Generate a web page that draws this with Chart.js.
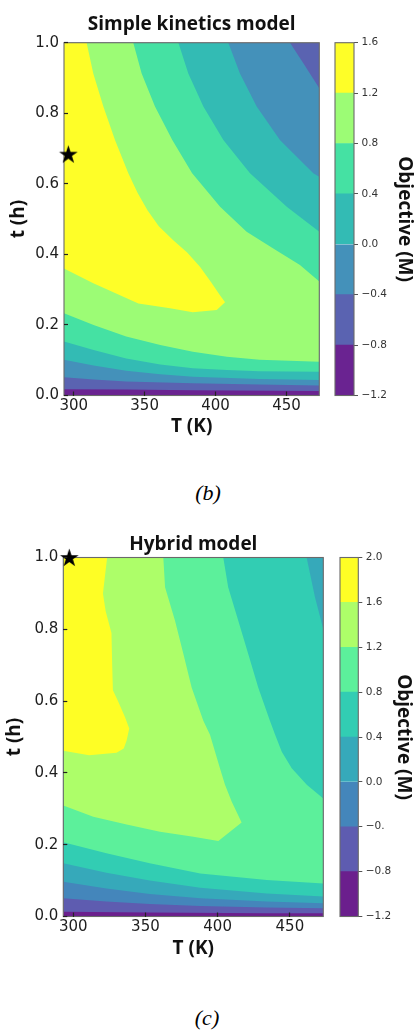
<!DOCTYPE html>
<html>
<head>
<meta charset="utf-8">
<script src="https://cdn.jsdelivr.net/npm/chart.js@4.4.1/dist/chart.umd.min.js"></script>
<style>
  html, body { margin: 0; padding: 0; background: #fff; }
  body { position: relative; width: 416px; height: 1030px; overflow: hidden; }
  canvas { position: absolute; }
  .cap { position: absolute; font-family: "Liberation Serif", "DejaVu Serif", serif; font-style: italic;
         font-size: 22px; color: #000; transform: translate(-50%, -50%); white-space: nowrap; }
</style>
</head>
<body>
<canvas id="main1" width="330" height="440" style="left:0;top:0"></canvas>
<canvas id="bar1" width="96" height="440" style="left:320px;top:0"></canvas>
<div class="cap" style="left:208px;top:493px">(b)</div>
<canvas id="main2" width="334" height="460" style="left:0;top:500px"></canvas>
<canvas id="bar2" width="91" height="460" style="left:325px;top:500px"></canvas>
<div class="cap" style="left:207px;top:1018px">(c)</div>
<script>
// ---------------- data ----------------
const T_MIN = 293.15, T_MAX = 473.15, t_MIN = 0, t_MAX = 1.0;
const xTicks = [300, 350, 400, 450];
const yTicks = [0, 0.2, 0.4, 0.6, 0.8, 1.0];
const yTickLabels = ['0.0', '0.2', '0.4', '0.6', '0.8', '1.0'];

// contour levels (colorbar boundaries)
const simpleLevels = [-1.2, -0.8, -0.4, 0.0, 0.4, 0.8, 1.2, 1.6];
const simpleLevelLabels = ['\u22121.2', '\u22120.8', '\u22120.4', '0.0', '0.4', '0.8', '1.2', '1.6'];
const hybridLevels = [-1.2, -0.8, -0.4, 0.0, 0.4, 0.8, 1.2, 1.6, 2.0];
const hybridLevelLabels = ['\u22121.2', '\u22120.8', '\u22120.', '0.0', '0.4', '0.8', '1.2', '1.6', '2.0'];

// Simple kinetics model: contour lines [T (K), t (h)]
// lower contour of each region (from T_MIN to T_MAX)
const simpleLowM08 = [[293.15,0.018],[337,0.017],[384,0.015],[473.15,0.013]];
const simpleLowM04 = [[293.15,0.052],[314,0.045],[337,0.040],[384,0.035],[431,0.031],[473.15,0.028]];
const simpleLow00  = [[293.15,0.101],[314,0.085],[337,0.070],[361,0.060],[384,0.053],[431,0.047],[473.15,0.044]];
const simpleLow04  = [[293.15,0.153],[314,0.129],[337,0.105],[361,0.088],[384,0.077],[408,0.072],[431,0.069],[473.15,0.067]];
const simpleLow08  = [[293.15,0.233],[314,0.200],[337,0.167],[361,0.143],[384,0.124],[408,0.110],[431,0.101],[473.15,0.096]];
// upper contour of each region (from top edge to right edge)
const simpleUpM04 = [[452.5,1.0],[461.9,0.942],[473.15,0.871]];
const simpleUp00  = [[409.0,1.0],[417.2,0.913],[429.0,0.819],[445.4,0.724],[468.9,0.630],[473.15,0.620]];
const simpleUp04  = [[373.8,1.0],[380.8,0.913],[391.4,0.819],[405.5,0.724],[424.3,0.630],[450.2,0.535],[473.15,0.464]];
const simpleUp08  = [[342.0,1.0],[347.9,0.913],[357.3,0.819],[369.5,0.724],[383.5,0.630],[403.2,0.535],[421.9,0.464],[440.7,0.417],[459.5,0.370],[473.15,0.323]];
// closed contour of the top region (from top edge round to left edge)
const simpleTop12 = [[309.1,1.0],[313.8,0.913],[320.9,0.819],[329.1,0.724],[338.5,0.630],[345.0,0.575],[352.0,0.525],[360.0,0.480],[370.0,0.441],[380.0,0.405],[389.0,0.365],[397.0,0.320],[403.0,0.285],[406.7,0.264],[400.8,0.242],[383.9,0.236],[367.9,0.247],[345.6,0.261],[313.8,0.318],[293.15,0.360]];
const simpleOptimum = [296.2, 0.684];

// Hybrid model: contour lines [T (K), t (h)]
const hybridLowM08 = [[293.15,0.0134],[353,0.011],[434,0.009],[473.15,0.009]];
const hybridLowM04 = [[293.15,0.051],[323,0.042],[353,0.035],[388,0.029],[434,0.025],[473.15,0.023]];
const hybridLow00  = [[293.15,0.097],[323,0.078],[353,0.063],[388,0.051],[434,0.042],[473.15,0.037]];
const hybridLow04  = [[293.15,0.148],[323,0.122],[353,0.100],[388,0.080],[434,0.064],[473.15,0.056]];
const hybridLow08  = [[293.15,0.207],[323,0.176],[353,0.148],[388,0.120],[434,0.102],[473.15,0.092]];
const hybridUp04   = [[461.6,1.0],[467.4,0.889],[473.15,0.800]];
const hybridUp08   = [[403.9,1.0],[407.3,0.917],[414.3,0.824],[421.2,0.731],[428.1,0.638],[436.2,0.545],[439.8,0.506],[444.4,0.459],[451.3,0.413],[461.7,0.367],[473.15,0.329]];
const hybridTop12  = [[362.4,1.0],[363.6,0.917],[370.5,0.824],[376.3,0.731],[382.0,0.638],[390.1,0.545],[394.7,0.506],[401.6,0.413],[405.1,0.367],[409.7,0.320],[416.6,0.262],[400.5,0.210],[383.2,0.222],[360.1,0.236],[337.0,0.256],[313.9,0.278],[293.15,0.309]];
const hybridTop16  = [[323.5,1.0],[320.6,0.900],[322.5,0.850],[326.5,0.790],[327.0,0.700],[327.5,0.630],[331.0,0.600],[335.9,0.555],[338.8,0.524],[337.0,0.490],[335.0,0.468],[330.0,0.456],[311.0,0.449],[293.15,0.462]];
const hybridOptimum = [297.3, 1.0];

// ---------------- styles ----------------
const simpleColors = ['#6a2391','#5a63b1','#4491ba','#33bbb4','#45e1a3','#9cfc75','#fefe28'];
const hybridColors = ['#6b1f8d','#5e5cb0','#4486bb','#36a9ba','#32cdb3','#5cf09b','#adfe69','#fefe25'];
const TITLE_FONT = {family: "'Open Sans', sans-serif", weight: 'bold', size: 19};
const TICK_FONT = {family: "'DejaVu Sans', sans-serif", size: 15};
const CB_TICK_FONT = {family: "'DejaVu Sans', sans-serif", size: 10.5};

// ---------------- helpers ----------------
function bandRegion(lower, upper) {
  const pts = lower ? lower.slice() : [[T_MIN, t_MIN], [T_MAX, t_MIN]];
  if (upper) { for (let i = upper.length - 1; i >= 0; i--) pts.push(upper[i]); }
  else pts.push([T_MAX, t_MAX]);
  pts.push([T_MIN, t_MAX]);
  pts.push(pts[0]);
  return pts;
}
function closedRegion(contour) {
  const pts = contour.slice();
  pts.push([T_MIN, t_MAX]);
  pts.push(contour[0]);
  return pts;
}
function makeStar() {
  const c = document.createElement('canvas');
  c.width = 21; c.height = 21;
  const g = c.getContext('2d');
  const cx = 10.5, cy = 11.2, R = 9.8, r = R * 0.382;
  g.beginPath();
  for (let k = 0; k < 10; k++) {
    const ang = -Math.PI / 2 + k * Math.PI / 5;
    const rad = k % 2 === 0 ? R : r;
    const px = cx + rad * Math.cos(ang), py = cy + rad * Math.sin(ang);
    k === 0 ? g.moveTo(px, py) : g.lineTo(px, py);
  }
  g.closePath();
  g.fillStyle = '#000';
  g.fill();
  return c;
}
const starImg = makeStar();

function strokeFrame(chart) {
  const a = chart.chartArea, c = chart.ctx;
  c.save(); c.strokeStyle = '#6a6a6a'; c.lineWidth = 1.1;
  c.strokeRect(a.left, a.top, a.right - a.left, a.bottom - a.top);
  c.restore();
}
function framePlugin(afterIndex) {
  return {
    id: 'frame',
    afterDatasetDraw(chart, args) {
      if (afterIndex !== null && args.index === afterIndex) strokeFrame(chart);
    },
    afterDatasetsDraw(chart) {
      if (afterIndex === null) strokeFrame(chart);
    }
  };
}

function mainChart(id, regions, colors, optimum, title, d) {
  const datasets = regions.map((pts, i) => ({
    data: pts.map(p => ({x: p[0], y: p[1]})),
    showLine: true, fill: 'shape', backgroundColor: colors[i], borderColor: 'rgba(0,0,0,0)',
    borderWidth: 0, pointRadius: 0, tension: 0, order: 100 - i
  }));
  datasets.push({
    data: [{x: optimum[0], y: optimum[1]}], showLine: false, fill: false,
    pointStyle: starImg, pointRadius: 9, clip: false, order: 0
  });
  new Chart(document.getElementById(id), {
    type: 'line',
    data: {datasets},
    options: {
      responsive: false, animation: false, events: [],
      layout: {padding: {left: 0, right: d.padR, top: 0, bottom: 0}},
      plugins: {
        legend: {display: false}, tooltip: {enabled: false},
        title: {display: true, text: title, fullSize: false, font: TITLE_FONT, color: '#111',
                padding: {top: d.tPadT, bottom: d.tPadB}}
      },
      scales: {
        x: {
          type: 'linear', min: T_MIN, max: T_MAX,
          afterBuildTicks: s => { s.ticks = xTicks.map(v => ({value: v})); },
          afterFit: s => { s.height = d.xH; },
          ticks: {font: TICK_FONT, color: '#1e1e1e', padding: 5.5, maxRotation: 0, autoSkip: false,
                  callback: (v, i) => String(xTicks[i])},
          grid: {drawOnChartArea: false, tickLength: -4, color: '#222', tickWidth: 1.2, z: 1},
          border: {display: false},
          title: {display: true, text: 'T (K)', font: TITLE_FONT, color: '#111', padding: {top: 0, bottom: d.xtPad}}
        },
        y: {
          type: 'linear', min: t_MIN, max: t_MAX,
          afterBuildTicks: s => { s.ticks = yTicks.map(v => ({value: v})); },
          afterFit: s => { s.width = d.yW; },
          ticks: {font: TICK_FONT, color: '#1e1e1e', padding: 9, autoSkip: false,
                  callback: (v, i) => yTickLabels[i]},
          grid: {drawOnChartArea: false, tickLength: -4, color: '#222', tickWidth: 1.2, z: 1},
          border: {display: false},
          title: {display: true, text: 't (h)', font: TITLE_FONT, color: '#111', padding: {top: d.ytPad, bottom: 0}}
        }
      }
    },
    plugins: [framePlugin(regions.length - 1)]
  });
}

function colorbar(id, levels, labels, colors, d) {
  const datasets = colors.map((c, i) => ({
    data: [[levels[i], levels[i + 1]]], backgroundColor: c, borderWidth: 0,
    grouped: false, barPercentage: 1, categoryPercentage: 1
  }));
  new Chart(document.getElementById(id), {
    type: 'bar',
    data: {labels: [''], datasets},
    options: {
      responsive: false, animation: false, events: [],
      layout: {padding: {left: 15, right: 0, top: d.top, bottom: d.bottom}},
      plugins: {legend: {display: false}, tooltip: {enabled: false}},
      scales: {
        x: {display: false},
        y: {
          position: 'right', min: levels[0], max: levels[levels.length - 1],
          afterBuildTicks: s => { s.ticks = levels.map(v => ({value: v})); },
          afterFit: s => { s.width = d.yW; },
          ticks: {font: CB_TICK_FONT, color: '#333', padding: 3.5, autoSkip: false,
                  callback: (v, i) => labels[i]},
          grid: {drawOnChartArea: false, tickLength: 4, color: '#555', tickWidth: 1},
          border: {display: false},
          title: {display: true, text: 'Objective (M)', font: TITLE_FONT, color: '#111', padding: {top: d.tp, bottom: 0}}
        }
      }
    },
    plugins: [framePlugin(null)]
  });
}

// ---------------- charts ----------------
const simpleRegions = [
  bandRegion(null, null),
  bandRegion(simpleLowM08, null),
  bandRegion(simpleLowM04, simpleUpM04),
  bandRegion(simpleLow00, simpleUp00),
  bandRegion(simpleLow04, simpleUp04),
  bandRegion(simpleLow08, simpleUp08),
  closedRegion(simpleTop12)
];
const hybridRegions = [
  bandRegion(null, null),
  bandRegion(hybridLowM08, null),
  bandRegion(hybridLowM04, null),
  bandRegion(hybridLow00, null),
  bandRegion(hybridLow04, hybridUp04),
  bandRegion(hybridLow08, hybridUp08),
  closedRegion(hybridTop12),
  closedRegion(hybridTop16)
];

mainChart('main1', simpleRegions, simpleColors, simpleOptimum, 'Simple kinetics model',
  {padR: 10.7, yW: 64, xH: 44.5, tPadT: 13.6, tPadB: 6.3, xtPad: 1.6, ytPad: 7.6});
colorbar('bar1', simpleLevels, simpleLevelLabels, simpleColors, {top: 42.7, bottom: 44.5, yW: 62, tp: 0});

mainChart('main2', hybridRegions, hybridColors, hybridOptimum, 'Hybrid model',
  {padR: 10.7, yW: 63.3, xH: 43.5, tPadT: 33.2, tPadB: 1.5, xtPad: 0, ytPad: 3.6});
colorbar('bar2', hybridLevels, hybridLevelLabels, hybridColors, {top: 57.5, bottom: 43.5, yW: 57.7, tp: 1.6});
</script>
</body>
</html>
